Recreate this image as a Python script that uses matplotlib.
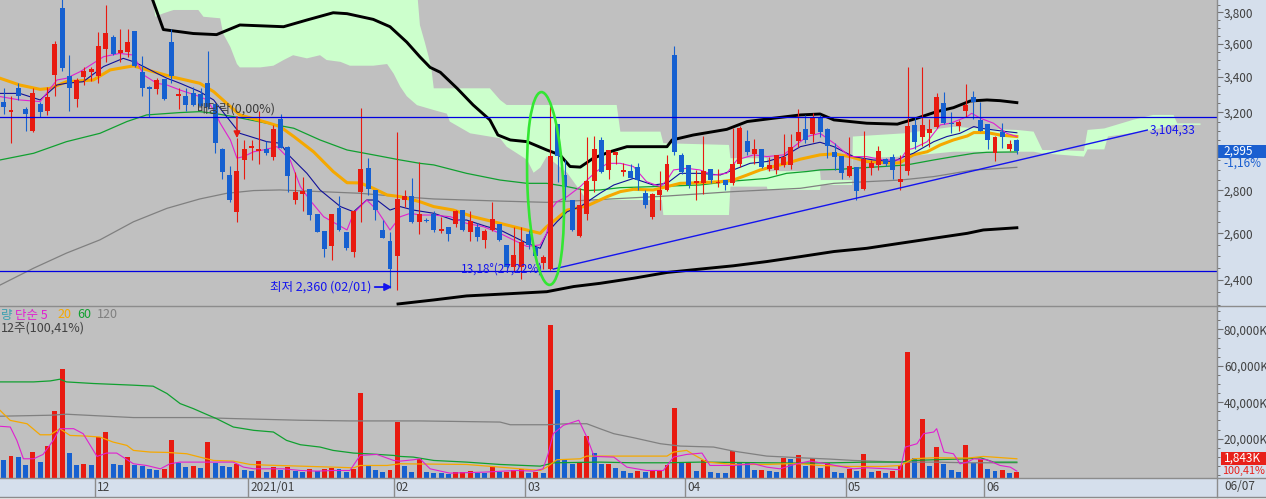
import numpy as np
import matplotlib
matplotlib.use("Agg")
import matplotlib.pyplot as plt
from matplotlib.patches import Ellipse, Rectangle
from matplotlib.lines import Line2D
from matplotlib.ticker import FixedLocator, NullFormatter

plt.rcParams['font.family'] = ['Noto Sans CJK KR', 'DejaVu Sans']

# ---- daily candles, oldest first (last one = 2021/06/07) ----
OPEN = [3255, 3200, 3335, 3220, 3100, 3245, 3210, 3415, 3830, 3405,
        3275, 3400, 3430, 3405, 3570, 3640, 3545, 3550, 3680, 3430,
        3345, 3330, 3390, 3610, 3290, 3290, 3310, 3305, 3365, 3245,
        3005, 2875, 2695, 2950, 3010, 2995, 3005, 2965, 3165, 3015,
        2755, 2780, 2805, 2690, 2610, 2545, 2715, 2605, 2520, 2790,
        2910, 2800, 2615, 2565, 2500, 2755, 2770, 2650, 2660, 2690,
        2610, 2630, 2640, 2705, 2605, 2630, 2570, 2615, 2640, 2550,
        2455, 2455, 2595, 2540, 2470, 2445, 3135, 2875, 2755, 2590,
        2690, 2845, 3050, 2900, 2975, 2890, 2895, 2915, 2785, 2675,
        2775, 2800, 3530, 2975, 2925, 2835, 2835, 2905, 2835, 2850,
        2835, 2930, 3045, 2980, 3005, 2905, 2900, 2925, 2925, 3045,
        3110, 3085, 3175, 3110, 2990, 2970, 2870, 2915, 2805, 2910,
        2925, 2955, 2965, 2840, 2895, 3130, 3065, 3090, 3120, 3250,
        3140, 3125, 3210, 3285, 3160, 3135, 2985, 3095, 3005, 3050]
HIGH = [3335, 3290, 3365, 3230, 3335, 3260, 3340, 3620, 3890, 3530,
        3395, 3460, 3460, 3675, 3845, 3655, 3695, 3695, 3680, 3525,
        3350, 3395, 3390, 3690, 3335, 3335, 3340, 3335, 3555, 3250,
        3010, 2920, 3060, 3050, 3050, 3210, 3045, 3130, 3190, 3020,
        2890, 2865, 2805, 2690, 2610, 2690, 2770, 2605, 2705, 3225,
        2960, 2800, 2660, 2605, 3095, 2800, 2860, 2940, 2670, 2700,
        2675, 2630, 2705, 2705, 2700, 2645, 2620, 2745, 2640, 2550,
        2630, 2630, 2615, 2540, 2505, 3235, 3135, 2950, 2755, 2810,
        3070, 3075, 3070, 3000, 2990, 2935, 2930, 2935, 2800, 2785,
        2895, 2975, 3585, 2985, 2925, 2900, 3075, 2905, 2905, 2850,
        3115, 3125, 3105, 3055, 3005, 2965, 2975, 3085, 3085, 3220,
        3185, 3195, 3185, 3115, 3035, 2970, 3070, 2915, 3100, 2950,
        3020, 2960, 2980, 2975, 3460, 3175, 3460, 3165, 3310, 3315,
        3200, 3160, 3360, 3320, 3255, 3135, 3075, 3140, 3050, 3055]
LOW = [3190, 3035, 3270, 3100, 3095, 3175, 3185, 3290, 3435, 3210,
       3230, 3355, 3375, 3365, 3490, 3530, 3490, 3520, 3460, 3290,
       3175, 3300, 3270, 3365, 3220, 3205, 3235, 3230, 3220, 2985,
       2855, 2745, 2650, 2855, 2950, 2930, 2975, 2950, 3010, 2790,
       2735, 2700, 2660, 2605, 2495, 2485, 2610, 2525, 2495, 2650,
       2775, 2660, 2580, 2365, 2360, 2720, 2645, 2595, 2650, 2605,
       2600, 2565, 2630, 2610, 2565, 2565, 2535, 2610, 2565, 2450,
       2435, 2405, 2530, 2470, 2445, 2440, 2840, 2755, 2610, 2585,
       2660, 2790, 2885, 2855, 2930, 2870, 2860, 2800, 2715, 2665,
       2705, 2795, 2975, 2880, 2810, 2755, 2780, 2835, 2815, 2800,
       2825, 2915, 2975, 2930, 2910, 2895, 2880, 2915, 2905, 3015,
       3035, 3040, 3070, 2960, 2900, 2855, 2865, 2755, 2800, 2875,
       2900, 2920, 2855, 2800, 2875, 3005, 3020, 3015, 3115, 3135,
       3090, 3100, 3175, 3165, 3100, 3005, 2945, 3010, 2995, 2980]
CLOSE = [3230, 3215, 3290, 3190, 3310, 3200, 3285, 3600, 3455, 3335,
         3385, 3435, 3450, 3585, 3665, 3540, 3560, 3610, 3465, 3335,
         3330, 3385, 3275, 3405, 3300, 3240, 3240, 3235, 3230, 3035,
         2890, 2755, 2895, 3005, 3020, 3005, 2985, 3110, 3010, 2870,
         2790, 2795, 2685, 2605, 2530, 2690, 2615, 2535, 2700, 2905,
         2805, 2705, 2580, 2445, 2760, 2770, 2650, 2690, 2655, 2615,
         2620, 2595, 2700, 2615, 2655, 2585, 2610, 2665, 2570, 2455,
         2505, 2560, 2550, 2500, 2495, 2970, 2970, 2815, 2615, 2730,
         2845, 3005, 2890, 3000, 2990, 2900, 2860, 2850, 2730, 2780,
         2800, 2930, 2990, 2890, 2825, 2845, 2895, 2850, 2840, 2825,
         2930, 3115, 2990, 3005, 2915, 2925, 2975, 2965, 3015, 3095,
         3050, 3175, 3095, 3020, 2965, 2885, 2920, 2795, 2955, 2935,
         2995, 2930, 2900, 2855, 3125, 3040, 3130, 3110, 3285, 3140,
         3135, 3145, 3240, 3255, 3100, 3050, 3065, 3065, 3030, 2995]
VOLUME = [8040, 10430, 9880, 5470, 12450, 6940, 15940, 35220, 58180, 11900,
          5800, 5850, 5290, 20900, 23470, 5840, 5290, 9700, 5290, 4920,
          3450, 2530, 3090, 19060, 6390, 4190, 4740, 3640, 17960, 6390,
          4740, 4190, 5840, 2530, 2170, 7490, 1620, 4190, 2720, 4190,
          1980, 1620, 3090, 1980, 3090, 3640, 3090, 1620, 3090, 44950,
          4740, 2530, 1430, 2530, 28980, 4740, 1430, 8960, 1430, 900,
          880, 860, 1430, 1450, 1980, 1070, 1060, 4190, 1620, 1640,
          2530, 3090, 880, 1620, 880, 82380, 46570, 8410, 5840, 6390,
          21270, 12270, 5840, 5900, 3640, 1980, 880, 1980, 1620, 2530,
          2550, 5290, 36690, 7200, 7300, 1980, 8040, 1430, 1420, 1410,
          12960, 6940, 6390, 2530, 2550, 1980, 1430, 9150, 8590, 10780,
          4740, 9150, 3640, 6760, 1430, 1420, 3450, 1980, 11350, 1430,
          1980, 880, 1990, 5290, 67500, 9150, 30580, 4740, 15200, 5840,
          2530, 1430, 16300, 6390, 8590, 3090, 1980, 2530, 880, 1843]  # K shares

MONTH_START = [13, 34, 54, 72, 94, 116, 135]
MONTH_LABELS = ["12", "2021/01", "02", "03", "04", "05", "06"]
LAST_DATE = "06/07"

# ---- price indicator lines (index, value) ----
MA5_X = [-0.5, 2.2, 5.0, 7.3, 8.6, 10.5, 13.7, 15.9, 17.8, 19.2, 21.0, 22.4, 24.2, 26.9, 27.9, 28.8, 29.7, 31.1,
         32.0, 32.9, 34.3, 35.6, 37.5, 39.3, 40.7, 42.0, 43.9, 47.1, 48.0, 49.8, 51.2, 53.0, 54.4, 55.8, 57.1,
         59.0, 61.3, 63.5, 65.8, 68.1, 69.9, 71.8, 73.6, 74.5, 75.2, 75.9, 77.3, 79.1, 81.0, 82.8, 84.6, 86.4,
         88.2, 90.1, 91.0, 91.9, 93.7, 95.5, 97.4, 99.2, 100.6, 102.9, 104.7, 107.0, 108.4, 110.2, 112.0, 113.9,
         116.1, 118.4, 120.7, 123.0, 123.9, 124.8, 126.7, 128.5, 129.9, 132.2, 132.8, 134.0, 135.8, 137.6, 139.0]
MA5_Y = [3288, 3269, 3260, 3383, 3393, 3432, 3521, 3541, 3531, 3412, 3364, 3354, 3325, 3288, 3269, 3213, 3141, 3052,
         2958, 2966, 2991, 3000, 3017, 2949, 2817, 2753, 2675, 2615, 2691, 2753, 2706, 2615, 2675, 2691, 2683,
         2683, 2675, 2645, 2630, 2600, 2571, 2542, 2549, 2600, 2714, 2745, 2769, 2817, 2882, 2932, 2932, 2916,
         2841, 2817, 2849, 2899, 2907, 2899, 2874, 2882, 2949, 2975, 2966, 2975, 3017, 3070, 3087, 3035,
         2966, 2966, 2949, 2949, 3000, 3008, 3043, 3132, 3141, 3177, 3195, 3168, 3141, 3087, 3070]
MA10_X = [-0.5, 2.2, 5.0, 7.3, 8.6, 10.9, 13.7, 16.4, 17.8, 19.2, 21.0, 22.4, 24.2, 26.9, 28.8, 30.6, 32.4, 36.1,
          37.9, 39.3, 41.6, 43.4, 46.2, 48.0, 49.8, 51.2, 53.0, 54.4, 56.2, 59.0, 61.7, 63.5, 66.3, 68.1, 69.9,
          71.8, 73.6, 74.5, 75.9, 77.3, 79.1, 81.8, 83.7, 86.4, 89.1, 91.0, 92.8, 95.5, 98.3, 100.1, 102.4, 104.7,
          107.0, 109.3, 112.0, 113.9, 116.6, 119.3, 122.1, 123.5, 124.8, 127.6, 129.4, 131.2, 133.1, 134.0, 135.8,
          137.6, 139.0]
MA10_Y = [3306, 3306, 3269, 3354, 3364, 3373, 3462, 3511, 3491, 3462, 3422, 3393, 3364, 3316, 3269, 3176, 3087, 3043,
          3035, 2966, 2882, 2801, 2722, 2698, 2753, 2753, 2706, 2722, 2706, 2691, 2660, 2660, 2630, 2615, 2586,
          2556, 2534, 2600, 2652, 2698, 2722, 2785, 2825, 2857, 2825, 2833, 2882, 2882, 2874, 2899, 2932, 2941,
          2966, 3017, 3040, 3017, 2966, 2949, 2941, 2966, 2983, 3043, 3070, 3087, 3123, 3114, 3105,
          3096, 3090]
MA20_X = [-0.5, 2.2, 5.0, 6.4, 8.6, 12.3, 14.6, 17.8, 20.5, 23.3, 26.9, 28.8, 30.6, 32.4, 36.1, 37.9, 39.8, 42.5,
          45.2, 47.1, 48.9, 50.7, 52.6, 54.4, 57.1, 59.0, 61.7, 64.4, 68.1, 70.9, 73.6, 74.5, 75.9, 77.3, 80.0,
          81.8, 82.8, 84.6, 86.4, 89.1, 91.0, 92.8, 95.5, 98.3, 100.1, 102.0, 103.8, 105.6, 107.4, 109.3, 112.0,
          113.9, 116.1, 118.4, 122.1, 123.0, 124.8, 126.7, 128.5, 130.3, 132.2, 133.1, 134.9, 136.7, 139.0]
MA20_Y = [3393, 3354, 3329, 3335, 3373, 3383, 3442, 3466, 3432, 3399, 3364, 3316, 3250, 3186, 3145, 3123, 3070, 2991,
          2891, 2836, 2835, 2809, 2777, 2769, 2745, 2722, 2706, 2675, 2645, 2622, 2600, 2630, 2667, 2706, 2725,
          2753, 2769, 2793, 2804, 2801, 2817, 2833, 2836, 2841, 2849, 2874, 2899, 2916, 2932, 2953, 2975,
          2980, 2966, 2941, 2932, 2936, 2975, 2991, 3026, 3052, 3073, 3091, 3091, 3078, 3070]
MA60_X = [-0.5, 4.1, 8.6, 13.2, 16.9, 19.6, 24.2, 26.9, 28.8, 31.5, 36.1, 39.8, 43.4, 47.1, 50.7, 54.4, 57.1, 59.0,
          63.5, 68.1, 71.8, 74.5, 77.3, 80.0, 81.8, 84.6, 89.1, 95.5, 100.1, 104.7, 107.4, 110.2, 112.0, 114.8,
          116.6, 120.7, 123.9, 127.6, 130.3, 133.1, 134.9, 139.0]
MA60_Y = [2949, 2983, 3043, 3087, 3150, 3186, 3199, 3204, 3195, 3177, 3141, 3114, 3052, 3000, 2975, 2949, 2932, 2924,
          2882, 2849, 2833, 2833, 2817, 2798, 2801, 2812, 2817, 2825, 2844, 2857, 2882, 2891, 2899, 2902,
          2907, 2916, 2924, 2949, 2966, 2983, 2988, 2990]
MA120_X = [-0.5, 4.1, 8.6, 13.2, 17.8, 22.4, 26.9, 30.6, 34.3, 37.9, 43.4, 48.9, 54.4, 59.0, 63.5, 68.1, 74.5, 91.0,
           100.1, 104.7, 109.3, 113.9, 118.4, 123.0, 127.6, 130.3, 133.1, 134.9, 139.0]
MA120_Y = [2379, 2449, 2513, 2571, 2652, 2714, 2758, 2785, 2798, 2801, 2793, 2785, 2769, 2758, 2753, 2748, 2742, 2772,
           2793, 2801, 2809, 2833, 2841, 2849, 2866, 2882, 2899, 2902, 2912]

BAND_UP_X = [20.3, 21.9, 26.0, 29.2, 32.4, 38.4, 41.6, 45.2, 47.1, 50.7, 53.0, 55.3, 57.1, 58.5, 59.9, 62.2, 64.4,
             66.7, 67.8, 69.5, 71.8, 74.5, 76.3, 77.7, 79.1, 80.9, 83.2, 85.5, 91.0, 91.7, 94.6, 99.2, 102.0, 105.6,
             109.3, 112.0, 113.9, 118.4, 122.6, 125.3, 128.0, 130.3, 132.6, 134.9, 136.7, 139.0]
BAND_UP_Y = [3900, 3689, 3664, 3657, 3718, 3707, 3750, 3797, 3791, 3754, 3707, 3610, 3520, 3457, 3428, 3335, 3241,
             3159, 3078, 3052, 3043, 3000, 2975, 2916, 2913, 2958, 2991, 3017, 3017, 3052, 3078, 3108, 3150, 3168,
             3186, 3191, 3159, 3141, 3136, 3168, 3204, 3226, 3263, 3269, 3265, 3254]
BAND_LO_X = [54.1, 59.0, 63.5, 68.1, 74.5, 78.2, 81.8, 86.4, 91.0, 95.5, 100.1, 104.7, 109.3, 113.9, 118.4, 123.0,
             127.6, 132.2, 134.4, 139.0]
BAND_LO_Y = [2303, 2319, 2335, 2342, 2352, 2373, 2386, 2407, 2431, 2445, 2459, 2477, 2498, 2520, 2534, 2556,
             2578, 2600, 2615, 2625]

# ichimoku cloud edges (runs 25 sessions past the last candle)
CLOUD_UP_X = [20.3, 56.7, 57.1, 57.8, 58.3, 58.7, 59.0, 66.7, 68.1, 69.0, 84.1, 84.6, 90.1, 90.5, 99.5, 99.7, 104.7,
              104.8, 112.0, 112.1, 116.4, 116.5, 123.5, 128.0, 130.3, 135.0, 139.0, 141.3, 142.5, 148.2, 148.7,
              151.0, 155.0, 157.7, 160.5, 161.0, 164.2]
CLOUD_UP_Y = [3950, 3950, 3718, 3605, 3520, 3442, 3335, 3335, 3269, 3241, 3241, 3096, 3096, 3035, 3026, 2958, 2958,
              2893, 2893, 2849, 2849, 3070, 3087, 3110, 3122, 3110, 3105, 3096, 3000, 2995, 3105,
              3113, 3160, 3186, 3186, 3140, 3140]
CLOUD_LO_X = [20.3, 20.8, 21.9, 23.3, 26.7, 27.4, 29.7, 30.1, 31.1, 32.0, 32.4, 35.2, 37.0, 38.4, 39.7, 41.6, 43.4,
              44.3, 46.2, 47.5, 50.7, 52.6, 53.5, 54.4, 55.3, 56.7, 59.0, 60.8, 61.2, 64.0, 68.1, 69.0, 71.8, 72.7,
              73.6, 74.5, 77.3, 80.0, 90.3, 90.5, 99.5, 99.7, 104.7, 104.8, 112.0, 112.1, 116.4, 116.5, 123.5,
              130.3, 139.0, 141.3, 142.5, 148.2, 148.7, 151.0, 151.5, 157.7, 160.5, 164.2]
CLOUD_LO_Y = [3950, 3771, 3793, 3815, 3815, 3771, 3761, 3664, 3580, 3477, 3457, 3457, 3467, 3501, 3530, 3511, 3530,
              3501, 3490, 3467, 3467, 3477, 3420, 3345, 3290, 3240, 3213, 3193, 3150, 3087, 3061, 3017, 2950, 2885,
              2910, 2967, 2885, 2753, 2753, 2683, 2683, 2817, 2817, 2801, 2801, 2825, 2825, 2958, 2966,
              2991, 2991, 2991, 2983, 2966, 3003, 3003, 3070, 3105, 3132, 3132]

# ---- volume moving averages (index, K shares) ----
VMA5_X = [-0.5, 0.9, 1.8, 2.7, 4.1, 5.4, 6.8, 7.7, 9.6, 10.9, 12.8, 14.1, 15.5, 17.8, 19.6, 21.5, 22.8, 24.2, 26.9,
          29.2, 31.5, 32.9, 34.3, 36.1, 38.4, 40.7, 43.0, 45.2, 47.5, 48.9, 51.2, 53.5, 54.4, 56.2, 57.1, 58.5,
          61.2, 65.8, 70.4, 72.7, 74.0, 74.7, 75.4, 76.8, 78.9, 80.0, 81.0, 83.7, 85.5, 88.2, 90.5, 91.9, 93.7,
          95.8, 96.9, 100.1, 102.9, 104.7, 106.5, 108.8, 110.6, 112.9, 114.8, 116.6, 118.4, 121.2, 123.0, 123.7,
          125.3, 126.2, 127.6, 128.0, 129.0, 130.3, 131.2, 132.2, 133.1, 134.9, 136.7, 138.1, 139.0]
VMA5_Y = [26800, 26400, 19060, 8960, 8960, 11350, 19060, 25480, 25480, 22730, 10250, 12090, 12090, 6210, 5290, 3450,
          6210, 7130, 7130, 7130, 7130, 4370, 3450, 3450, 3450, 2530, 2170, 2530, 2530, 10800, 11350, 8040, 7680,
          8410, 8960, 3450, 1070, 1620, 2530, 2170, 3450, 11720, 22750, 27340, 30110, 20900, 10250, 9880, 4370,
          2530, 2530, 9880, 11350, 12090, 5290, 5290, 6210, 4370, 3450, 6210, 7680, 6210, 4740, 3450, 4000, 3450,
          2900, 15390, 17220, 22730, 23650, 25480, 12640, 11720, 6210, 7130, 8960, 8410, 5290, 4370, 2170]
VMA20_X = [-0.5, 0.9, 3.2, 5.0, 6.4, 7.7, 9.1, 11.4, 13.2, 15.0, 16.9, 17.8, 20.1, 22.4, 25.1, 26.9, 28.8, 31.5,
           33.8, 36.1, 40.7, 45.2, 48.0, 48.9, 52.6, 54.4, 63.5, 68.1, 73.6, 74.5, 75.9, 79.1, 80.0, 91.0, 91.9,
           93.7, 94.6, 96.5, 100.1, 104.7, 107.4, 109.3, 112.0, 116.1, 120.7, 123.0, 124.8, 127.6, 132.2, 134.4,
           139.0]
VMA20_Y = [35530, 30020, 28190, 22130, 22130, 25480, 21770, 21400, 20900, 18140, 16300, 13550, 12640, 12450, 11720,
           9880, 8040, 7680, 5840, 5470, 4920, 4370, 4000, 5290, 5290, 6210, 5840, 4370, 2530, 4370, 8410, 8960,
           10430, 10430, 12640, 13550, 11350, 7130, 5840, 5840, 6210, 6210, 5290, 4740, 4740, 5290, 8960, 9510,
           9330, 10250, 8960]
VMA60_X = [-0.5, 4.1, 6.4, 7.7, 8.6, 12.3, 17.8, 20.5, 22.4, 24.2, 26.0, 27.9, 29.2, 31.5, 34.3, 37.0, 38.8, 40.7,
           43.4, 45.2, 48.0, 49.8, 53.5, 54.4, 56.2, 59.0, 63.5, 68.1, 73.6, 75.5, 81.8, 86.4, 91.0, 95.5, 109.3,
           113.9, 118.4, 123.0, 124.8, 127.6, 132.2, 134.0, 135.8, 139.0]
VMA60_Y = [51160, 51160, 51710, 52630, 51160, 50280, 49360, 48810, 44770, 39260, 36510, 33200, 30990, 26400, 24570,
           23650, 19060, 16670, 15390, 13550, 12090, 11720, 10800, 10250, 9880, 8040, 7130, 5840, 4920, 6760, 7130,
           6760, 6760, 7130, 6580, 6760, 7130, 7130, 8040, 8410, 8960, 9510, 7130, 7130]
VMA120_X = [-0.5, 6.4, 8.6, 13.2, 17.8, 26.9, 31.5, 40.7, 47.5, 57.1, 68.1, 69.5, 74.5, 77.3, 80.0, 81.8, 83.7, 86.4,
            90.1, 92.8, 97.4, 100.1, 104.7, 109.3, 113.4, 116.6, 123.0, 127.6, 132.2, 139.0]
VMA120_Y = [32320, 32870, 33420, 32500, 31580, 31580, 31030, 30110, 29740, 29740, 29110, 27640, 27640, 28190, 28190,
            25480, 22730, 20530, 17220, 15940, 15390, 13180, 10430, 9510, 8780, 8040, 7130, 7130, 6760, 6760]

# ---- drawn objects / annotations ----
H_LEVELS = [3177, 2436]
TREND_X = [75.4, 156.9]
TREND_Y = [2445, 3104.33]
EXDIV_IDX = 32
LOW_IDX, LOW_PRICE = 54, 2360
LAST_CLOSE, LAST_CHG = 2995, -1.16
LAST_VOL, LAST_VOL_PCT = 1843, 100.41

PRICE_TICKS = [2400, 2600, 2800, 3000, 3200, 3400, 3600, 3800]
VOL_TICKS = [20000, 40000, 60000, 80000]

RED, BLUE = '#e81a10', '#1660d0'
BG, STRIP, CLOUD = '#c0c0c0', '#d5dfec', '#ccffcc'
MAG, NAVY, ORG, GRN, GRY = '#e020d0', '#10109a', '#f5a800', '#10a030', '#808080'
TXT = '#404040'

W, H = 1266, 499


def fx(x):
    return x / W


def fy(y):
    return 1 - y / H


fig = plt.figure(figsize=(W / 100, H / 100), dpi=100)
fig.patch.set_facecolor(STRIP)

ax = fig.add_axes([0, fy(306), fx(1217), 306 / H])
axv = fig.add_axes([0, fy(477.5), fx(1217), 171.5 / H])
axd = fig.add_axes([0, fy(496.5), fx(1217), 19 / H])
XLIM = (-0.51, 166.46)

# ---------------- price panel ----------------
ax.set_facecolor(BG)
ax.set_yscale('log')
ax.set_xlim(*XLIM)
ax.set_ylim(2295, 3881)

ax.fill(CLOUD_UP_X + CLOUD_LO_X[::-1], CLOUD_UP_Y + CLOUD_LO_Y[::-1], color=CLOUD, lw=0, zorder=1)
ax.plot(BAND_UP_X, BAND_UP_Y, color='black', lw=2.1, zorder=2)
ax.plot(BAND_LO_X, BAND_LO_Y, color='black', lw=2.1, zorder=2)
ax.plot(MA120_X, MA120_Y, color=GRY, lw=0.9, zorder=3)
ax.plot(MA60_X, MA60_Y, color=GRN, lw=0.9, zorder=3)
ax.plot(MA20_X, MA20_Y, color=ORG, lw=2.2, zorder=3)
ax.plot(MA10_X, MA10_Y, color=NAVY, lw=0.8, zorder=3)
ax.plot(MA5_X, MA5_Y, color=MAG, lw=0.8, zorder=3)

idx = np.arange(len(OPEN))
o, h, l, c = (np.array(a, dtype=float) for a in (OPEN, HIGH, LOW, CLOSE))
ccol = np.where(c >= o, RED, BLUE)
ax.vlines(idx, l, h, colors=ccol, lw=0.8, zorder=4)
lo_b = np.minimum(o, c)
ax.bar(idx, np.maximum(np.abs(c - o), lo_b * 0.002), bottom=lo_b, width=0.68,
       color=ccol, lw=0, zorder=5)

for lvl in H_LEVELS:
    ax.axhline(lvl, color='#0000e0', lw=0.9, zorder=6)
ax.plot(TREND_X, TREND_Y, color='#1414ee', lw=1.0, zorder=6)

ax.text(TREND_X[1] + 0.3, TREND_Y[1], f"{TREND_Y[1]:,.2f}".replace('.', ','),
        color='#1414ee', fontsize=8.5, va='center', ha='left', zorder=7)
ax.text(TREND_X[0] - 1.4, TREND_Y[0], "13,18°(27,22%)", color='#1414ee',
        fontsize=8.5, va='center', ha='right', zorder=7)
ax.text(LOW_IDX - 3.6, LOW_PRICE + 11, f"최저 {LOW_PRICE:,} (02/01)", color='#1414ee',
        fontsize=9, va='center', ha='right', zorder=7)
ax.annotate('', xy=(LOW_IDX - 0.7, LOW_PRICE + 11), xytext=(LOW_IDX - 3.1, LOW_PRICE + 11),
            arrowprops=dict(arrowstyle='-|>', color='#1414ee', lw=1.3, mutation_scale=11,
                            shrinkA=0, shrinkB=0), zorder=7)
ax.text(EXDIV_IDX, 3219, "배당락(0,00%)", color='#3c3c3c', fontsize=9,
        va='center', ha='center', zorder=7)
ax.annotate('', xy=(EXDIV_IDX, 3062), xytext=(EXDIV_IDX, 3176),
            arrowprops=dict(arrowstyle='-|>', color=RED, lw=1.0, mutation_scale=10,
                            shrinkA=0, shrinkB=0), zorder=7)

ax.yaxis.tick_right()
ax.yaxis.set_major_locator(FixedLocator(PRICE_TICKS))
ax.set_yticklabels([f"{v:,}" for v in PRICE_TICKS])
ax.yaxis.set_minor_locator(FixedLocator([v for v in range(2300, 3900, 50) if v not in PRICE_TICKS]))
ax.yaxis.set_minor_formatter(NullFormatter())
ax.tick_params(axis='y', which='major', direction='out', length=4, width=0.8, color='#707070',
               labelsize=8.5, labelcolor=TXT, pad=1)
ax.tick_params(axis='y', which='minor', direction='out', length=2.5, width=0.7, color='#707070')
ax.set_xticks([])
for s in ax.spines.values():
    s.set_visible(False)

# green hand-drawn ellipse around the breakout candle
fig.add_artist(Ellipse((5.455, (H - 188.5) / 100), 0.36, 1.93, angle=2.5,
                       transform=fig.dpi_scale_trans, fill=False, ec='#33e633', lw=1.9))

# ---------------- volume panel ----------------
VMIN = -1320
axv.set_facecolor(BG)
axv.set_xlim(*XLIM)
axv.set_ylim(VMIN, 92830)
vol = np.array(VOLUME, dtype=float)
vcol = [BLUE] + [RED if vol[i] > vol[i - 1] else BLUE for i in range(1, len(vol))]
axv.bar(idx, vol - VMIN, bottom=VMIN, width=0.68, color=vcol, lw=0, zorder=2)
axv.plot(VMA120_X, VMA120_Y, color=GRY, lw=0.9, zorder=3)
axv.plot(VMA60_X, VMA60_Y, color=GRN, lw=0.9, zorder=3)
axv.plot(VMA20_X, VMA20_Y, color=ORG, lw=0.9, zorder=3)
axv.plot(VMA5_X, VMA5_Y, color=MAG, lw=0.8, zorder=3)

axv.yaxis.tick_right()
axv.yaxis.set_major_locator(FixedLocator(VOL_TICKS))
axv.set_yticklabels([f"{v:,}K" for v in VOL_TICKS])
axv.yaxis.set_minor_locator(FixedLocator([v for v in range(0, 92000, 5000) if v not in VOL_TICKS]))
axv.tick_params(axis='y', which='major', direction='out', length=4, width=0.8, color='#707070',
                labelsize=8.5, labelcolor=TXT, pad=1)
axv.tick_params(axis='y', which='minor', direction='out', length=2.5, width=0.7, color='#707070')
axv.set_xticks([])
for s in axv.spines.values():
    s.set_visible(False)

# ---------------- date strip ----------------
axd.set_facecolor(STRIP)
axd.set_xlim(*XLIM)
axd.set_ylim(0, 1)
for s, lab in zip(MONTH_START, MONTH_LABELS):
    axd.axvline(s - 0.5, color='#8c8c8c', lw=1)
    axd.text(s - 0.5 + 0.3, 0.45, lab, fontsize=8.5, color=TXT, va='center', ha='left')
axd.set_xticks([])
axd.set_yticks([])
for s in axd.spines.values():
    s.set_visible(False)
fig.text(fx(1224), fy(486.5), LAST_DATE, fontsize=8.5, color=TXT, va='center', ha='left')

# ---------------- frame lines ----------------
for yy in (306, 477.5, 496.5):
    fig.add_artist(Line2D([0, 1], [fy(yy), fy(yy)], transform=fig.transFigure, color='#8c8c8c', lw=1))
fig.add_artist(Line2D([fx(1217), fx(1217)], [fy(0), fy(496.5)], transform=fig.transFigure,
                      color='#8c8c8c', lw=1))
fig.add_artist(Rectangle((0, 0), 1, 2.5 / H, transform=fig.transFigure, color='#eeeeee', lw=0))

# ---------------- current value boxes ----------------
fig.add_artist(Rectangle((fx(1218), fy(157.5)), fx(48), 12.5 / H, transform=fig.transFigure,
                         color='#1a5fd0', lw=0))
fig.text(fx(1223), fy(151.2), f"{LAST_CLOSE:,}", fontsize=8.5, color='white', va='center', ha='left')
fig.text(fx(1223), fy(163.5), f"{LAST_CHG:.2f}%".replace('.', ','), fontsize=8.5, color='#1a5fd0',
         va='center', ha='left')
fig.add_artist(Rectangle((fx(1220.5), fy(464.5)), fx(46), 12.5 / H, transform=fig.transFigure,
                         color='#e8201a', lw=0))
fig.text(fx(1224), fy(458.2), f"{LAST_VOL:,}K", fontsize=8.5, color='white', va='center', ha='left')
fig.text(fx(1222), fy(470.5), f"{LAST_VOL_PCT:.2f}%".replace('.', ','), fontsize=7.8, color='#e8201a',
         va='center', ha='left')

# ---------------- volume legend ----------------
fig.text(fx(0.5), fy(315), "량", fontsize=9, color='#3aa0b0', va='center', ha='left')
fig.text(fx(15), fy(315), "단순 5", fontsize=9, color=MAG, va='center', ha='left')
fig.text(fx(57), fy(315), "20", fontsize=9, color=ORG, va='center', ha='left')
fig.text(fx(77), fy(315), "60", fontsize=9, color=GRN, va='center', ha='left')
fig.text(fx(97), fy(315), "120", fontsize=9, color=GRY, va='center', ha='left')
fig.text(fx(0.5), fy(328.5), f"12주({LAST_VOL_PCT:.2f}%)".replace('.', ','), fontsize=9, color=TXT,
         va='center', ha='left')

fig.savefig('out.png', dpi=100, facecolor=fig.get_facecolor())
